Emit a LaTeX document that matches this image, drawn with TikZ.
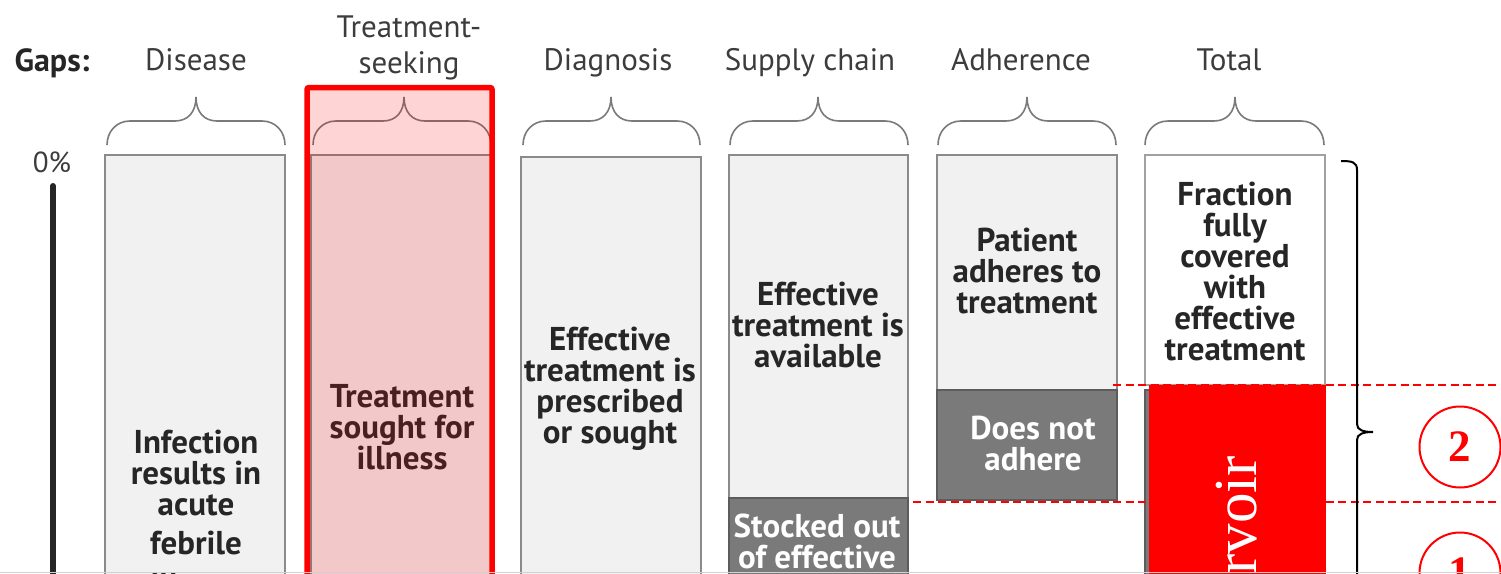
\documentclass[tikz,border=0pt]{standalone}
\usepackage{fontspec}
\setmainfont{PT Sans}
\newfontfamily\serifface{Liberation Serif}
\definecolor{barfill}{HTML}{F1F1F1}
\definecolor{barline}{HTML}{8A8A8A}
\definecolor{darkfill}{HTML}{7A7A7A}
\definecolor{darkline}{HTML}{5C5C5C}
\definecolor{textdark}{HTML}{262626}
\definecolor{headgray}{HTML}{3C3C3C}
\definecolor{bracegray}{HTML}{7A7A7A}
\definecolor{hotred}{HTML}{FF0000}

% curly brace above a bar: left end, tip, right end
\newcommand\gapbrace[3]{%
  \draw[gapbrace] (#1,145) .. controls (#1,132) and (#1+9,121) .. (#1+23,121)
    -- (#2-21,121) .. controls (#2-8,121) and (#2,112) .. (#2,97)
    .. controls (#2,112) and (#2+8,121) .. (#2+21,121)
    -- (#3-23,121) .. controls (#3-9,121) and (#3,132) .. (#3,145);}

\begin{document}
\begin{tikzpicture}[x=1pt,y=-1pt,
  bar/.style={draw=barline, line width=1.6pt, fill=barfill},
  whitebar/.style={draw=barline!80, line width=1.6pt, fill=white},
  darkbar/.style={draw=darkline, line width=1.6pt, fill=darkfill},
  gapbrace/.style={draw=bracegray, line width=1.6pt},
  gaphead/.style={font=\fontsize{31}{36}\selectfont, text=headgray, align=center, inner sep=0pt, anchor=base},
  barlabel/.style={font=\fontsize{33}{31}\selectfont\bfseries, text=textdark, align=center, inner sep=0pt, anchor=base},
  darklabel/.style={barlabel, text=white},
  marker/.style={draw=hotred, line width=2pt, dash pattern=on 8pt off 4.5pt},
  stepmark/.style={circle, draw=hotred, line width=2pt, minimum size=81pt, inner sep=0pt,
    font=\serifface\bfseries\fontsize{45}{45}\selectfont, text=hotred},
]
\useasboundingbox (0,0) rectangle (1501,573);
\clip (0,0) rectangle (1501,573);
\fill[white] (0,0) rectangle (1501,573);

% headings (anchor at the baseline of the last line)
\node[font=\fontsize{32}{36}\selectfont\bfseries, text=textdark, inner sep=0pt, anchor=base] (gaps) at (52,71) {Gaps:};
\node[gaphead] (hdis) at (196,70) {Disease};
\node[gaphead] (hts) at (409,73) {Treatment-\\seeking};
\node[gaphead] (hdia) at (608,70) {Diagnosis};
\node[gaphead] (hsup) at (810,70) {Supply chain};
\node[gaphead] (hadh) at (1021,70) {Adherence};
\node[gaphead] (htot) at (1229,70) {Total};

% axis
\node[font=\fontsize{29}{30}\selectfont, text=headgray, inner sep=0pt, anchor=base] (zero) at (52,172) {0\%};
\coordinate (axtop) at (53,186);
\coordinate (axbot) at (53,640);
\draw[line width=6pt, line cap=round, color=textdark] (axtop) -- (axbot);

% braces
\gapbrace{107}{196}{285}
\gapbrace{313}{404}{491}
\gapbrace{523}{611}{700}
\gapbrace{730}{818}{908}
\gapbrace{938}{1027}{1116}
\gapbrace{1145}{1235}{1324}

% bars
\path[bar] (105,155) rectangle (285,640);
\path[bar] (311,155) rectangle (491,640);
\path[bar] (521,157) rectangle (701,640);
\path[bar] (729,155) rectangle (908,498);
\path[darkbar] (729,498) rectangle (908,640);
\path[bar] (937,155) rectangle (1117,390);
\path[darkbar] (937,390) rectangle (1117,500);
\path[whitebar] (1145,155) rectangle (1325,385);
\path[darkbar] (1145,390) rectangle (1325,640);

% bar labels (anchor at the baseline of the last line)
\node[barlabel] (dis1) at (196,515) {Infection\\results in\\acute};
\node[barlabel, font=\fontsize{33}{42}\selectfont\bfseries] (dis2) at (196,596) {febrile\\illness};
\node[barlabel] (ts) at (402,469) {Treatment\\sought for\\illness};
\node[barlabel] (dia) at (610,443) {Effective\\treatment is\\prescribed\\or sought};
\node[barlabel] (sup) at (818,367) {Effective\\treatment is\\available};
\node[darklabel] (stock) at (817,599) {Stocked out\\of effective\\treatment};
\node[barlabel] (adh) at (1027,313) {Patient\\adheres to\\treatment};
\node[darklabel] (nadh) at (1033,470) {Does not\\adhere};
\node[barlabel] (tot) at (1235,360) {Fraction\\fully\\covered\\with\\effective\\treatment};

% threshold lines
\coordinate (m2a) at (1113,385);
\coordinate (m2b) at (1501,385);
\coordinate (m1a) at (913,502);
\coordinate (m1b) at (1501,502);
\draw[marker] (m2a) -- (m2b);
\draw[marker] (m1a) -- (m1b);

% reservoir block
\fill[hotred] (1149,385) rectangle (1326,640);
\node[rotate=90, anchor=east, inner sep=0pt, text=white,
  font=\serifface\fontsize{61}{64}\selectfont] (res) at (1237,456) {Reservoir};

% bracket on the right
\draw[line width=2pt, color=black] (1341,161) .. controls (1352,161) and (1357,162) .. (1357,170)
  -- (1357,424) .. controls (1357,430) and (1363,432) .. (1373,432)
  .. controls (1363,432) and (1357,434) .. (1357,440) -- (1357,640);

% numbered markers
\node[stepmark] (two) at (1460,447) {2};
\node[stepmark] (one) at (1460,573) {1};

% highlighted column
\draw[hotred, line width=5.5pt, fill=hotred, fill opacity=0.17, rounded corners=2pt]
  (307,87.5) rectangle (492,660);

% lower edge
\fill[black!18] (0,571.5) rectangle (1501,573);
\end{tikzpicture}
\end{document}
